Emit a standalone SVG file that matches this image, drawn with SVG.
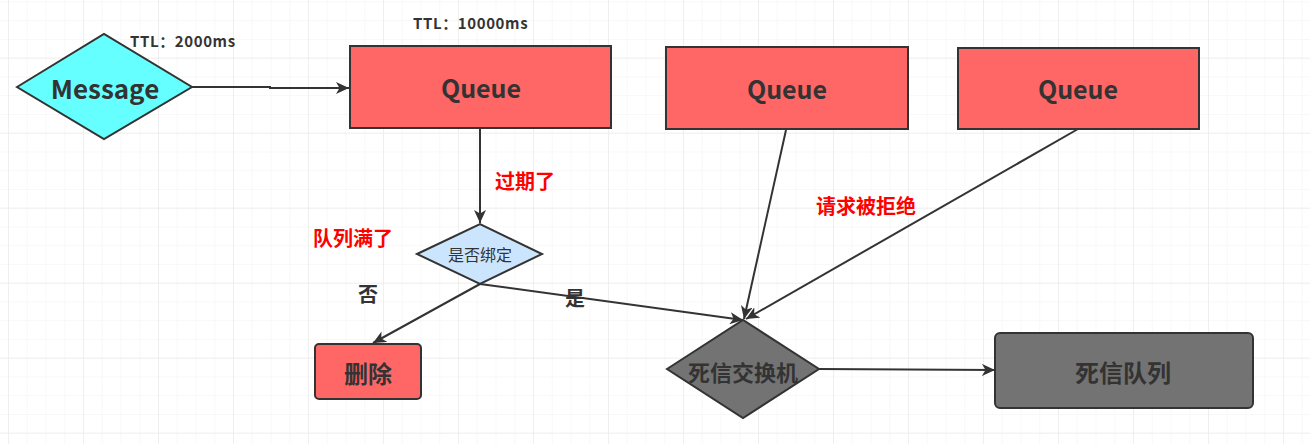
<svg xmlns="http://www.w3.org/2000/svg" width="1310" height="444" viewBox="0 0 1310 444">
<defs>
<pattern id="minor" x="8" y="1.45" width="18.75" height="18.75" patternUnits="userSpaceOnUse">
<path d="M0 0 V18.75 M0 0 H18.75" fill="none" stroke="#f2f2f2" stroke-width="1"/>
</pattern>
<pattern id="major" x="8" y="57.7" width="75" height="75" patternUnits="userSpaceOnUse">
<path d="M0 0 V75 M0 0 H75" fill="none" stroke="#e6e6e6" stroke-width="1"/>
</pattern>
<marker id="arr" markerWidth="14" markerHeight="12" refX="13" refY="6" orient="auto" markerUnits="userSpaceOnUse">
<path d="M0 0 L13 6 L0 12 L3.5 6 Z" fill="#333"/>
</marker>
<style>
.shape{stroke:#333;stroke-width:2}
.conn{fill:none;stroke:#333;stroke-width:2;marker-end:url(#arr)}
.t{font-family:"Noto Sans CJK SC","Liberation Sans",sans-serif;font-weight:bold;fill:#333;text-anchor:middle;dominant-baseline:central}
.red{font-family:"Noto Sans CJK SC","Liberation Sans",sans-serif;font-weight:bold;fill:#ff0000;font-size:20px;dominant-baseline:central}
.lbl{font-family:"Noto Sans CJK SC","Liberation Sans",sans-serif;font-weight:bold;fill:#333;font-size:15px;letter-spacing:0.6px}
</style>
</defs>
<rect width="1310" height="444" fill="#ffffff"/>
<rect width="1310" height="444" fill="url(#minor)"/>
<rect width="1310" height="444" fill="url(#major)"/>

<g id="connectors">
<polyline class="conn" points="192,87 270,87 270,88 349,88"/>
<line class="conn" x1="480" y1="129" x2="480" y2="223"/>
<line class="conn" x1="480" y1="284" x2="373" y2="343"/>
<line class="conn" x1="480" y1="284" x2="743" y2="320"/>
<line class="conn" x1="786" y1="130" x2="744" y2="319"/>
<line class="conn" x1="1078" y1="129" x2="746" y2="319"/>
<line class="conn" x1="819" y1="369" x2="995" y2="370"/>
</g>

<g id="message">
<polygon class="shape" points="17,87 104,34 192,87 104,139" fill="#66ffff"/>
<text class="t" x="105" y="87" font-size="26">Message</text>
</g>
<text class="lbl" x="130" y="47">TTL：2000ms</text>

<g id="queue1">
<rect class="shape" x="350" y="46" width="261" height="82" fill="#ff6666"/>
<text class="t" x="481" y="87" font-size="25">Queue</text>
</g>
<text class="lbl" x="413" y="29">TTL：10000ms</text>

<g id="queue2">
<rect class="shape" x="666" y="47" width="242" height="82" fill="#ff6666"/>
<text class="t" x="787" y="88" font-size="25">Queue</text>
</g>

<g id="queue3">
<rect class="shape" x="958" y="48" width="241" height="81" fill="#ff6666"/>
<text class="t" x="1078" y="88" font-size="25">Queue</text>
</g>

<g id="bind">
<polygon class="shape" points="417,254 480,224 542,254 480,284" fill="#cce5ff"/>
<text class="t" x="480" y="254" font-size="16" style="font-weight:normal">是否绑定</text>
</g>

<g id="delete">
<rect class="shape" x="315" y="344" width="106" height="55" rx="4" fill="#ff6666"/>
<text class="t" x="368" y="372" font-size="24">删除</text>
</g>

<g id="dlx">
<polygon class="shape" points="667,369 743,320 819,369 743,418" fill="#737373"/>
<text class="t" x="743" y="371" font-size="22">死信交换机</text>
</g>

<g id="dlq">
<rect class="shape" x="995" y="333" width="258" height="75" rx="5" fill="#737373"/>
<text class="t" x="1123" y="371" font-size="24">死信队列</text>
</g>

<text class="red" x="495" y="180">过期了</text>
<text class="red" x="313" y="237">队列满了</text>
<text class="red" x="816" y="205">请求被拒绝</text>
<text class="t" x="368" y="293" font-size="20">否</text>
<text class="t" x="575" y="297" font-size="20">是</text>
</svg>
